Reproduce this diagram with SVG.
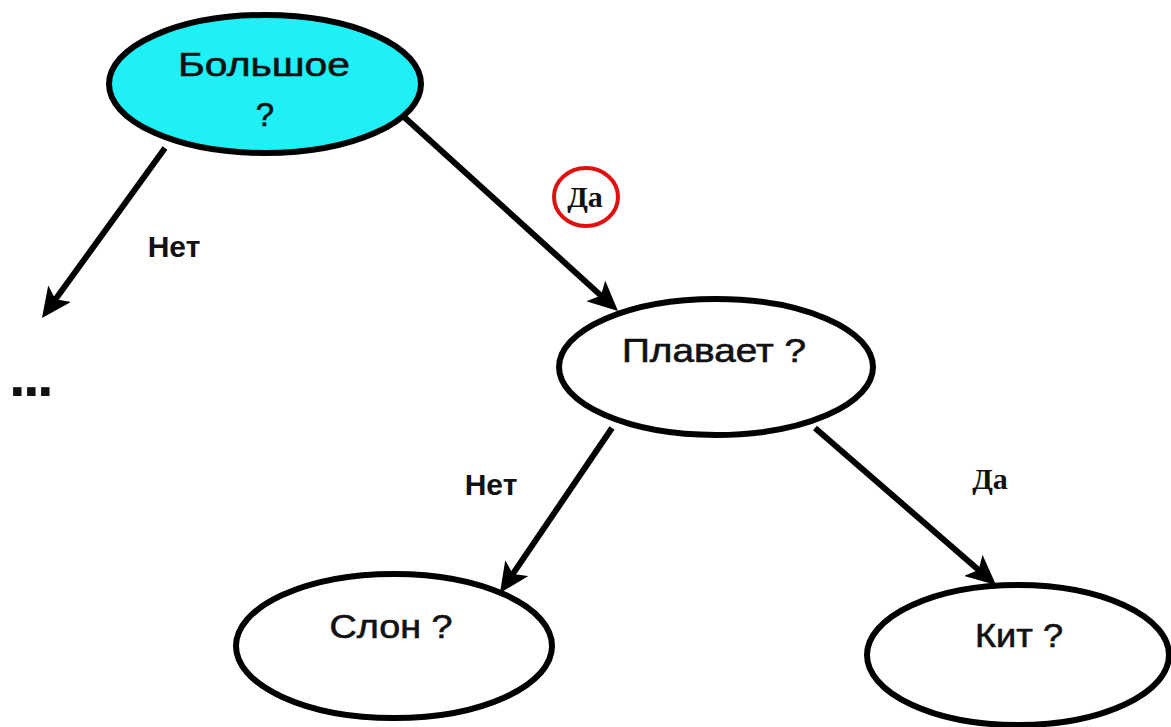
<svg xmlns="http://www.w3.org/2000/svg" width="1171" height="727" viewBox="0 0 1171 727">
  <style>
    .node { stroke: #000; stroke-width: 6; fill: #fff; }
    .root { fill: #1ef0f5; }
    .label { font-family: "Liberation Sans", Arial, sans-serif; font-size: 33px; fill: #111; stroke: #111; stroke-width: 0.6; text-anchor: middle; }
    .edge { stroke: #000; stroke-width: 6; fill: none; marker-end: url(#head); }
    .yes { font-family: "Liberation Serif", "Times New Roman", serif; font-weight: bold; font-size: 30px; fill: #111; text-anchor: middle; }
    .no { font-family: "Liberation Sans", Arial, sans-serif; font-weight: bold; font-size: 30px; fill: #111; text-anchor: middle; }
    .dots { font-family: "Liberation Sans", Arial, sans-serif; font-weight: bold; font-size: 60px; letter-spacing: -2.7px; font-variant-ligatures: none; fill: #111; }
  </style>
  <defs>
    <marker id="head" viewBox="0 0 30 28" refX="10" refY="14" markerWidth="30" markerHeight="28" markerUnits="userSpaceOnUse" orient="auto">
      <path d="M0,0 L30,14 L0,28 L7,14 z" fill="#000"/>
    </marker>
  </defs>
  <rect width="1171" height="727" fill="#fff"/>

  <g id="node-big">
    <ellipse class="node root" cx="265" cy="84" rx="156" ry="69"/>
    <text class="label" x="264" y="76" textLength="172" lengthAdjust="spacingAndGlyphs">Большое</text>
    <text class="label" x="265" y="126">?</text>
  </g>

  <g id="node-swims">
    <ellipse class="node" cx="716" cy="367" rx="157" ry="68"/>
    <text class="label" x="714" y="362" textLength="184" lengthAdjust="spacingAndGlyphs">Плавает ?</text>
  </g>

  <g id="node-elephant">
    <ellipse class="node" cx="394" cy="646" rx="158" ry="72"/>
    <text class="label" x="391" y="638" textLength="123" lengthAdjust="spacingAndGlyphs">Слон ?</text>
  </g>

  <g id="node-whale">
    <ellipse class="node" cx="1018" cy="655" rx="151" ry="70"/>
    <text class="label" x="1019" y="647" textLength="88" lengthAdjust="spacingAndGlyphs">Кит ?</text>
  </g>

  <g id="node-more">
    <text class="dots" x="9" y="396">...</text>
  </g>

  <g id="connectors">
    <line class="edge" x1="165" y1="148" x2="53.7" y2="301.8"/>
    <line class="edge" x1="403" y1="116" x2="603.2" y2="297.6"/>
    <line class="edge" x1="612" y1="428" x2="511.2" y2="576.4"/>
    <line class="edge" x1="815" y1="428" x2="980.9" y2="571.9"/>

    <text class="no" x="174" y="257">Нет</text>
    <ellipse cx="586" cy="197" rx="32" ry="29" fill="none" stroke="#e01010" stroke-width="4"/>
    <text class="yes" x="585" y="207">Да</text>
    <text class="no" x="491" y="495">Нет</text>
    <text class="yes" x="990" y="489">Да</text>
  </g>
</svg>
